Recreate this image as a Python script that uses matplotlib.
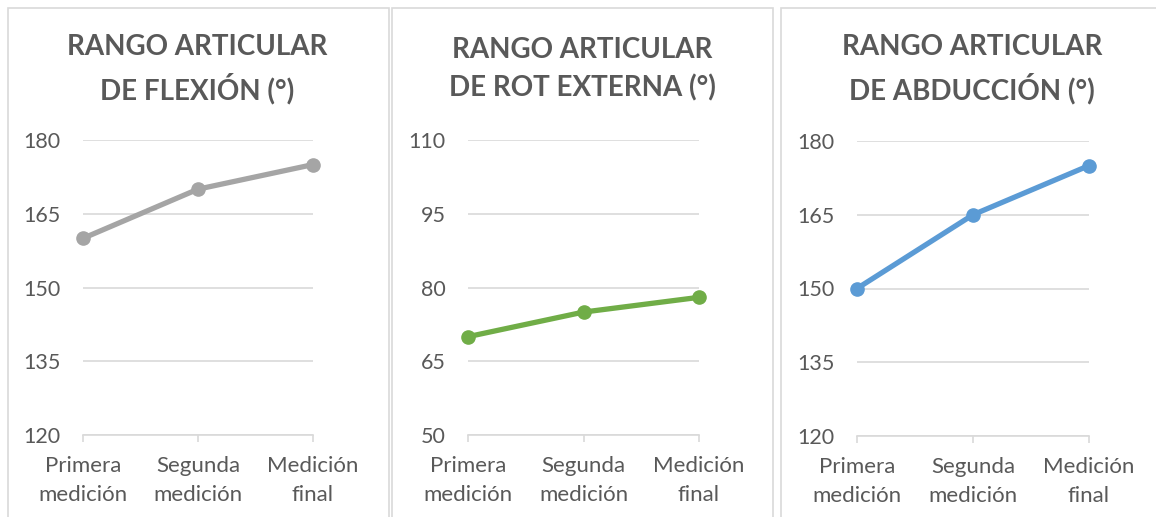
import matplotlib.pyplot as plt
from matplotlib.patches import Rectangle

# --------- datos ---------
categorias = ["Primera\nmedición", "Segunda\nmedición", "Medición\nfinal"]
flexion = [160, 170, 175]
rot_externa = [70, 75, 78]
abduccion = [150, 165, 175]

titulos = [
    "RANGO ARTICULAR\nDE FLEXIÓN (°)",
    "RANGO ARTICULAR\nDE ROT EXTERNA (°)",
    "RANGO ARTICULAR\nDE ABDUCCIÓN (°)",
]
series = [flexion, rot_externa, abduccion]
ejes_y = [(120, 180), (50, 110), (120, 180)]
colores = ["#A5A5A5", "#70AD47", "#5B9BD5"]

TXT = "#595959"
GRID = "#D9D9D9"
FONT = ["Lato", "DejaVu Sans"]

W, H = 1156, 517
fig = plt.figure(figsize=(W / 100, H / 100), dpi=100)

# marcos de cada gráfico (px): x0, x1
marcos = [(8, 389), (392, 773), (781, 1170)]
# área de trazado (px): izquierda, derecha, arriba, abajo
areas = [(83, 313, 140, 435), (468, 699, 140, 435), (857, 1089, 141, 436)]

for (mx0, mx1) in marcos:
    fig.patches.append(Rectangle((mx0 / W, -0.1), (mx1 - mx0) / W, 1.1 - 8 / H,
                                 transform=fig.transFigure, fill=False,
                                 edgecolor=GRID, linewidth=1.2))

for i in range(3):
    l, r, t, b = areas[i]
    ax = fig.add_axes([l / W, 1 - b / H, (r - l) / W, (b - t) / H])
    x = list(range(len(categorias)))
    ax.plot(x, series[i], color=colores[i], linewidth=3.8, marker="o",
            markersize=9.5, solid_capstyle="round", zorder=3, clip_on=False)
    lo, hi = ejes_y[i]
    ax.set_ylim(lo, hi)
    ax.set_xlim(0, 2)
    ax.set_yticks(range(lo, hi + 1, 15))
    ax.set_xticks(x)
    ax.set_xticklabels(categorias, fontsize=16, color=TXT, family=FONT,
                       linespacing=1.55)
    for lab in ax.get_yticklabels():
        lab.set_fontsize(15.5)
        lab.set_color(TXT)
        lab.set_family(FONT)
    ax.grid(axis="y", color=GRID, linewidth=1.2, zorder=0)
    ax.set_axisbelow(True)
    for s in ["top", "right", "left"]:
        ax.spines[s].set_visible(False)
    ax.spines["bottom"].set_color(GRID)
    ax.spines["bottom"].set_linewidth(1.2)
    ax.tick_params(axis="y", length=0, pad=16)
    ax.tick_params(axis="x", length=5, color=GRID, width=1.2, pad=10)
    fig.text(((l + r) / 2 - 1) / W, 1 - 69 / H, titulos[i], ha="center",
             va="center", fontsize=20, fontweight="bold", color=TXT,
             family=FONT, linespacing=1.5)

fig.savefig("out.png", dpi=100)
